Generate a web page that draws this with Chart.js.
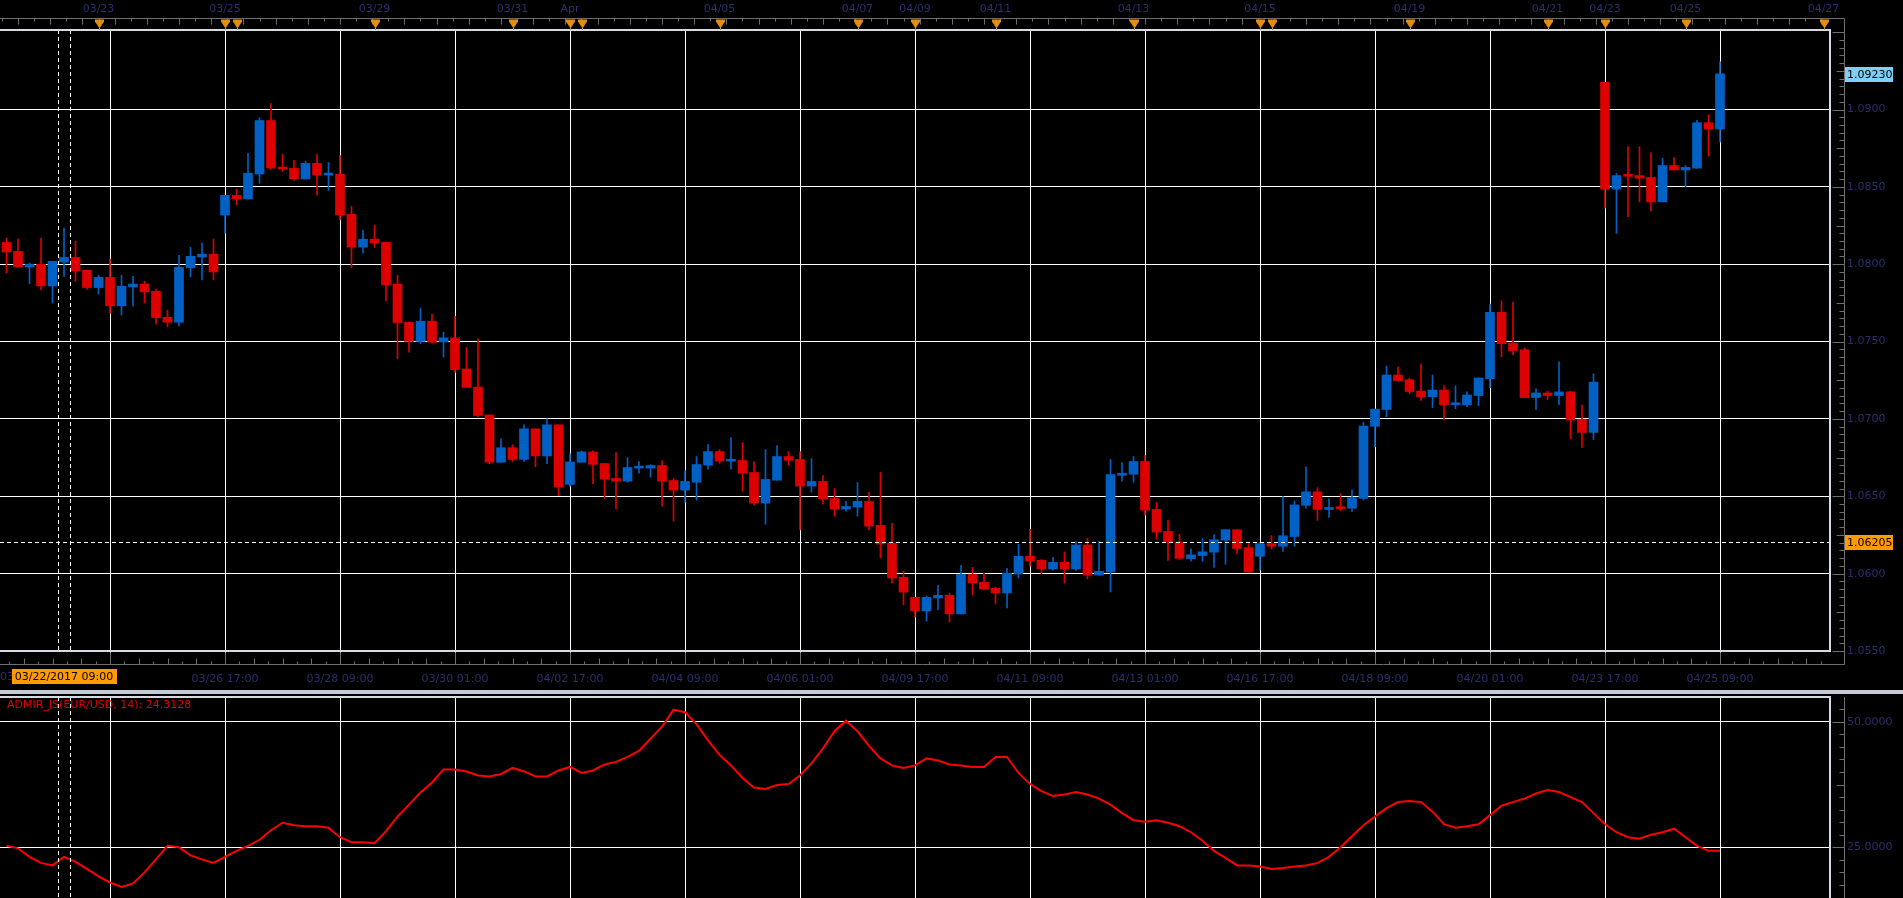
<!DOCTYPE html>
<html><head><meta charset="utf-8">
<script src="https://cdn.jsdelivr.net/npm/chart.js@4.4.0/dist/chart.umd.min.js"></script>
<style>
html,body{margin:0;padding:0;background:#000;overflow:hidden;width:1903px;height:898px;}
#c1{position:absolute;left:0;top:0;}
#c2{position:absolute;left:0;top:690px;}
</style></head><body>
<canvas id="c1" width="1903" height="690"></canvas>
<canvas id="c2" width="1903" height="208"></canvas>
<script>
// ---- DATA (EUR/USD, 4-hour bars; crosshair bar 5 = 03/22/2017 09:00) ----
const opens = [1.08141,1.08083,1.07982,1.08000,1.07860,1.08014,1.08044,1.07961,1.07849,1.07915,
1.07731,1.07853,1.07872,1.07825,1.07657,1.07625,1.07977,1.08047,1.08065,1.08318,
1.08445,1.08422,1.08583,1.08929,1.08627,1.08620,1.08551,1.08652,1.08576,1.08581,
1.08323,1.08111,1.08162,1.08141,1.07872,1.07625,1.07501,1.07632,1.07498,1.07524,
1.07323,1.07206,1.07026,1.06720,1.06814,1.06738,1.06936,1.06761,1.06962,1.06577,
1.06720,1.06787,1.06712,1.06615,1.06598,1.06682,1.06682,1.06699,1.06602,1.06540,
1.06591,1.06701,1.06789,1.06727,1.06731,1.06654,1.06456,1.06604,1.06757,1.06738,
1.06566,1.06596,1.06486,1.06417,1.06430,1.06467,1.06312,1.06198,1.05976,1.05847,
1.05759,1.05843,1.05860,1.05740,1.05995,1.05944,1.05905,1.05875,1.05998,1.06112,
1.06086,1.06030,1.06073,1.06030,1.06185,1.05991,1.06011,1.06636,1.06643,1.06725,
1.06415,1.06273,1.06204,1.06097,1.06117,1.06139,1.06216,1.06284,1.06168,1.06112,
1.06194,1.06177,1.06240,1.06442,1.06529,1.06415,1.06427,1.06423,1.06486,1.06952,
1.07061,1.07284,1.07253,1.07180,1.07143,1.07187,1.07092,1.07092,1.07151,1.07260,
1.07689,1.07490,1.07447,1.07138,1.07168,1.07151,1.07175,1.06998,1.06913,1.09175,
1.08485,1.08573,1.08573,1.08561,1.08403,1.08638,1.08609,1.08621,1.08915,1.08874];
const highs = [1.08169,1.08162,1.08007,1.08169,1.08019,1.08233,1.08148,1.07961,1.07929,1.08033,
1.07929,1.07922,1.07890,1.07839,1.07703,1.08058,1.08109,1.08136,1.08162,1.08445,
1.08484,1.08717,1.08947,1.09039,1.08710,1.08671,1.08664,1.08710,1.08657,1.08703,
1.08374,1.08219,1.08252,1.08141,1.07929,1.07625,1.07717,1.07678,1.07561,1.07664,
1.07462,1.07517,1.07026,1.06872,1.06833,1.06962,1.06936,1.07001,1.06962,1.06775,
1.06794,1.06794,1.06712,1.06783,1.06750,1.06725,1.06705,1.06731,1.06615,1.06667,
1.06757,1.06834,1.06802,1.06880,1.06847,1.06725,1.06802,1.06828,1.06789,1.06789,
1.06744,1.06634,1.06550,1.06467,1.06589,1.06525,1.06654,1.06325,1.06015,1.05847,
1.05854,1.05925,1.05873,1.06054,1.06041,1.06002,1.05912,1.06034,1.06189,1.06286,
1.06092,1.06105,1.06140,1.06208,1.06228,1.06211,1.06738,1.06718,1.06757,1.06763,
1.06460,1.06344,1.06254,1.06160,1.06226,1.06253,1.06284,1.06284,1.06194,1.06204,
1.06245,1.06498,1.06471,1.06690,1.06556,1.06483,1.06517,1.06541,1.06978,1.07063,
1.07342,1.07335,1.07262,1.07354,1.07284,1.07214,1.07214,1.07175,1.07265,1.07743,
1.07762,1.07755,1.07459,1.07194,1.07180,1.07369,1.07180,1.07090,1.07291,1.09175,
1.08587,1.08760,1.08760,1.08721,1.08684,1.08689,1.08638,1.08930,1.08966,1.09308];
const lows = [1.07945,1.07982,1.07874,1.07835,1.07749,1.07922,1.07890,1.07839,1.07807,1.07680,
1.07671,1.07729,1.07749,1.07614,1.07595,1.07602,1.07918,1.07899,1.07899,1.08201,
1.08383,1.08422,1.08523,1.08613,1.08599,1.08542,1.08551,1.08447,1.08477,1.08286,
1.07977,1.08072,1.08109,1.07763,1.07390,1.07432,1.07487,1.07492,1.07399,1.07300,
1.07204,1.07015,1.06711,1.06720,1.06725,1.06725,1.06692,1.06711,1.06504,1.06566,
1.06720,1.06582,1.06486,1.06417,1.06591,1.06649,1.06624,1.06436,1.06340,1.06462,
1.06475,1.06675,1.06714,1.06675,1.06533,1.06443,1.06320,1.06604,1.06701,1.06282,
1.06527,1.06449,1.06372,1.06404,1.06372,1.06282,1.06101,1.05940,1.05798,1.05720,
1.05694,1.05765,1.05688,1.05740,1.05862,1.05894,1.05804,1.05778,1.05972,1.06049,
1.05998,1.06023,1.05940,1.06021,1.05965,1.05991,1.05882,1.06598,1.06591,1.06378,
1.06223,1.06086,1.06092,1.06080,1.06080,1.06041,1.06061,1.06131,1.06010,1.06025,
1.06160,1.06143,1.06177,1.06423,1.06345,1.06364,1.06408,1.06403,1.06476,1.06821,
1.07015,1.07248,1.07163,1.07119,1.07073,1.06993,1.07066,1.07080,1.07085,1.07202,
1.07401,1.07415,1.07138,1.07061,1.07124,1.07092,1.06874,1.06816,1.06867,1.08364,
1.08199,1.08308,1.08403,1.08345,1.08403,1.08609,1.08502,1.08621,1.08699,1.08791];
const closes = [1.08079,1.07982,1.08000,1.07860,1.08019,1.08044,1.07957,1.07849,1.07915,1.07731,
1.07858,1.07872,1.07821,1.07655,1.07625,1.07980,1.08051,1.08065,1.07950,1.08445,
1.08422,1.08588,1.08929,1.08622,1.08615,1.08551,1.08652,1.08576,1.08581,1.08318,
1.08111,1.08162,1.08139,1.07867,1.07623,1.07501,1.07632,1.07496,1.07524,1.07319,
1.07204,1.07022,1.06720,1.06814,1.06738,1.06936,1.06761,1.06962,1.06559,1.06722,
1.06787,1.06706,1.06611,1.06598,1.06686,1.06686,1.06699,1.06598,1.06540,1.06596,
1.06705,1.06789,1.06727,1.06733,1.06649,1.06456,1.06609,1.06757,1.06733,1.06566,
1.06596,1.06482,1.06417,1.06434,1.06467,1.06307,1.06191,1.05972,1.05881,1.05759,
1.05847,1.05860,1.05740,1.05995,1.05940,1.05901,1.05875,1.06002,1.06112,1.06082,
1.06030,1.06073,1.06030,1.06185,1.05991,1.06015,1.06641,1.06647,1.06725,1.06411,
1.06269,1.06204,1.06099,1.06122,1.06141,1.06219,1.06284,1.06163,1.06010,1.06194,
1.06177,1.06245,1.06444,1.06529,1.06415,1.06425,1.06420,1.06491,1.06954,1.07063,
1.07284,1.07248,1.07177,1.07143,1.07187,1.07092,1.07100,1.07155,1.07265,1.07689,
1.07486,1.07442,1.07138,1.07168,1.07151,1.07175,1.06993,1.06913,1.07238,1.08485,
1.08573,1.08568,1.08556,1.08403,1.08638,1.08609,1.08626,1.08915,1.08874,1.09231];
const admir = [25.3,24.8,23.1,21.9,21.4,23.1,22.1,20.7,19.2,18.0,
17.1,17.8,20.0,22.6,25.3,25.0,23.4,22.6,21.9,23.1,
24.3,25.3,26.5,28.4,29.9,29.4,29.2,29.2,28.9,27.0,
26.0,26.0,25.8,28.2,31.1,33.5,35.9,37.9,40.5,40.5,
40.1,39.3,39.1,39.6,40.8,40.1,39.1,39.1,40.3,41.0,
39.8,40.3,41.5,42.0,43.0,44.2,46.6,49.0,52.4,51.9,
49.5,46.3,43.4,41.3,38.8,36.9,36.6,37.4,37.6,39.3,
41.7,44.7,48.1,50.2,48.1,45.2,42.7,41.3,40.8,41.3,
42.7,42.3,41.5,41.3,41.0,41.0,43.0,43.0,39.8,37.6,
36.2,35.2,35.5,36.0,35.5,34.7,33.5,31.8,30.4,30.1,
30.4,29.9,29.2,28.0,26.3,24.3,22.9,21.4,21.4,21.2,
20.7,20.9,21.2,21.4,21.9,23.1,25.0,27.2,29.4,31.1,
32.8,34.0,34.2,34.0,32.1,29.6,28.9,29.2,29.6,31.4,
33.3,34.0,34.7,35.7,36.4,36.0,35.0,34.0,31.8,29.6,
28.0,27.0,26.7,27.5,28.0,28.7,27.0,25.3,24.3,24.3128];

const gridBars = [9,19,29,39,49,59,69,79,89,99,109,119,129,139,149];
const gridLabels = ['','03/26 17:00','03/28 09:00','03/30 01:00','04/02 17:00','04/04 09:00','04/06 01:00',
  '04/09 17:00','04/11 09:00','04/13 01:00','04/16 17:00','04/18 09:00','04/20 01:00','04/23 17:00','04/25 09:00'];
const topMarkBars = [8,19,20,32,44,49,50,62,74,79,86,98,109,110,122,134,139,146,158];
const topLabelBars = [8,19,32,44,49,62,74,79,86,98,109,122,134,139,146,158];
const topLabels = ['03/23','03/25','03/29','03/31','Apr','04/05','04/07','04/09','04/11','04/13','04/15','04/19','04/21','04/23','04/25','04/27'];
const priceTicks = [1.0550,1.0600,1.0650,1.0700,1.0750,1.0800,1.0850,1.0900];
const oscTicks = [25,50];
const lastPrice = 1.09230;
const crossPrice = 1.06205;
const crossBar = 5;
const crossLabel = '03/22/2017 09:00';
const oscLabel = 'ADMIR_JS(EUR/USD, 14): 24.3128';

// ---- STYLE ----
const NAVY = '#2b2e6e', UP = '#0060c4', DOWN = '#dd0000', FRAME = '#d5dbe1', RULER = '#6e6e6e';
const FONT = {family:'DejaVu Sans', size:11};
Chart.defaults.font = FONT;
Chart.defaults.color = NAVY;
const BAR_W = 11.5, X_LEFT = 6.5, PLOT_RIGHT = 1830;
const xMin = -X_LEFT / BAR_W, xMax = (PLOT_RIGHT - X_LEFT) / BAR_W;

const idx = opens.map((_, i) => i);
const candleColors = idx.map(i => closes[i] >= opens[i] ? UP : DOWN);

function dashedCross(ctx, a, x) {
  const cx = x.getPixelForValue(crossBar);
  ctx.save();
  ctx.strokeStyle = '#ffffff'; ctx.lineWidth = 1; ctx.setLineDash([4, 3]);
  [cx - 6, cx + 6].forEach(px => {
    const p = Math.round(px) + 0.5;
    ctx.beginPath(); ctx.moveTo(p, a.top); ctx.lineTo(p, a.bottom); ctx.stroke();
  });
  ctx.restore();
}
function yAfterFit(s) { s.width = 73; s.paddingTop = 0; s.paddingBottom = 0; }

const decor1 = {
  id: 'decor1',
  afterDatasetsDraw(chart) {
    const {ctx, chartArea: a, scales: {x, y}} = chart;
    dashedCross(ctx, a, x);
    ctx.save();
    ctx.strokeStyle = '#ffffff'; ctx.lineWidth = 1; ctx.setLineDash([4, 3]);
    const py = Math.round(y.getPixelForValue(crossPrice)) + 0.5;
    ctx.beginPath(); ctx.moveTo(a.left, py); ctx.lineTo(a.right, py); ctx.stroke();
    ctx.restore();
  },
  afterDraw(chart) {
    const {ctx, chartArea: a, scales: {x, y}} = chart;
    ctx.save();
    ctx.strokeStyle = FRAME; ctx.lineWidth = 2;
    ctx.beginPath(); ctx.moveTo(a.left, a.top); ctx.lineTo(a.right, a.top); ctx.lineTo(a.right, a.bottom); ctx.lineTo(a.left, a.bottom); ctx.stroke();
    const RX = 1844.5, TY = 18.5, BY = 664.5;
    ctx.strokeStyle = RULER; ctx.lineWidth = 1;
    ctx.beginPath();
    ctx.moveTo(0, TY); ctx.lineTo(RX, TY); ctx.lineTo(RX, BY); ctx.lineTo(0, BY);
    let k = 0;
    for (let v = -0.4; v < xMax; v += 1.4, k++) {
      const px = Math.round(x.getPixelForValue(v)) + 0.5;
      ctx.moveTo(px, TY); ctx.lineTo(px, TY + (k % 2 ? 6 : 3));
    }
    k = 0;
    for (let v = gridBars[0] - 10; v < xMax; v += 1.25, k++) {
      const px = Math.round(x.getPixelForValue(v)) + 0.5;
      const len = (k % 8 === 0) ? 12 : (k % 2 ? 3 : 6);
      ctx.moveTo(px, BY); ctx.lineTo(px, BY - len);
    }
    for (let s = 0; ; s++) {
      const v = 1.0550 + s * 0.0005;
      if (v > y.max) break;
      const py = Math.round(y.getPixelForValue(v)) + 0.5;
      const len = (s % 10 === 0) ? 12 : (s % 5 === 0 ? 8 : 5);
      ctx.moveTo(RX - len, py); ctx.lineTo(RX, py);
    }
    ctx.stroke();
    topMarkBars.forEach(b => {
      const px = Math.round(x.getPixelForValue(b));
      ctx.strokeStyle = '#9a9a9a'; ctx.lineWidth = 1;
      ctx.beginPath(); ctx.moveTo(px + 0.5, 27); ctx.lineTo(px + 0.5, a.top); ctx.stroke();
      ctx.fillStyle = '#e38e0f';
      ctx.beginPath(); ctx.moveTo(px - 4, 19.5); ctx.lineTo(px + 5, 19.5); ctx.lineTo(px + 5, 21.5); ctx.lineTo(px + 0.5, 28.5); ctx.lineTo(px - 4, 21.5); ctx.closePath(); ctx.fill();
    });
    ctx.fillStyle = NAVY; ctx.font = '11px "DejaVu Sans"'; ctx.textAlign = 'center'; ctx.textBaseline = 'middle';
    topLabelBars.forEach((b, i) => ctx.fillText(topLabels[i], x.getPixelForValue(b), 9));
    ctx.textAlign = 'left';
    ctx.fillText('03', 0, 677);
    const cx = x.getPixelForValue(crossBar);
    ctx.fillStyle = '#ff9a00'; ctx.fillRect(Math.round(cx) - 52, 669, 105, 15);
    ctx.fillStyle = '#000'; ctx.textAlign = 'center';
    ctx.fillText(crossLabel, cx, 677);
    ctx.textAlign = 'left';
    [[lastPrice, '#7ccff5', lastPrice.toFixed(5)], [crossPrice, '#ff9a00', crossPrice.toFixed(5)]].forEach(([p, c, t]) => {
      const py = y.getPixelForValue(p);
      ctx.fillStyle = c; ctx.fillRect(1845, Math.round(py) - 7, 48, 15);
      ctx.fillStyle = '#000'; ctx.fillText(t, 1847, py + 1);
    });
    ctx.restore();
  }
};

new Chart(document.getElementById('c1'), {
  type: 'bar',
  data: {
    datasets: [
      { label: 'wick', data: idx.map(i => ({x: i, y: [lows[i], highs[i]]})), backgroundColor: candleColors,
        barThickness: 1, grouped: false, order: 2 },
      { label: 'body', data: idx.map(i => ({x: i, y: [opens[i], closes[i]]})), backgroundColor: candleColors,
        barThickness: 9, minBarLength: 2, grouped: false, order: 1 }
    ]
  },
  options: {
    responsive: false, animation: false, events: [], devicePixelRatio: 1,
    layout: {padding: {top: 30, left: 0, right: 0, bottom: 0}},
    plugins: {legend: {display: false}, tooltip: {enabled: false}},
    scales: {
      x: {
        type: 'linear', min: xMin, max: xMax, offset: false,
        grid: {offset: false, color: '#ffffff', lineWidth: 1, drawTicks: true, tickLength: 13, tickColor: '#ffffff'},
        border: {display: false},
        afterBuildTicks: s => { s.ticks = gridBars.map(v => ({value: v})); },
        afterFit: s => { s.height = 39; },
        ticks: {autoSkip: false, maxRotation: 0, padding: 9, color: NAVY, font: FONT,
          callback: v => { const j = gridBars.indexOf(v); return j >= 0 ? gridLabels[j] : ''; }}
      },
      y: {
        type: 'linear', position: 'right', min: 1.0550, max: 1.09514,
        grid: {color: '#ffffff', lineWidth: 1, drawTicks: false},
        border: {display: false},
        afterBuildTicks: s => { s.ticks = priceTicks.map(v => ({value: v})); },
        afterFit: yAfterFit,
        ticks: {padding: 17, color: NAVY, font: FONT, callback: v => v.toFixed(4)}
      }
    }
  },
  plugins: [decor1]
});

const decor2 = {
  id: 'decor2',
  beforeDraw(chart) {
    const {ctx} = chart;
    ctx.save(); ctx.fillStyle = '#c3ccd6'; ctx.fillRect(0, 0, 1903, 4); ctx.restore();
  },
  afterDraw(chart) {
    const {ctx, chartArea: a, scales: {x, y}} = chart;
    dashedCross(ctx, a, x);
    ctx.save();
    ctx.strokeStyle = FRAME; ctx.lineWidth = 2;
    ctx.beginPath(); ctx.moveTo(a.left, a.top); ctx.lineTo(a.right, a.top); ctx.lineTo(a.right, a.bottom); ctx.stroke();
    const RX = 1844.5;
    ctx.strokeStyle = RULER; ctx.lineWidth = 1;
    ctx.beginPath(); ctx.moveTo(RX, a.top); ctx.lineTo(RX, 208);
    for (let s = 0; ; s++) {
      const v = 15 + s * 2.5;
      if (v > y.max) break;
      const py = Math.round(y.getPixelForValue(v)) + 0.5;
      const len = (v % 25 === 0) ? 12 : (v % 12.5 === 0 ? 8 : 5);
      ctx.moveTo(RX - len, py); ctx.lineTo(RX, py);
    }
    ctx.stroke();
    ctx.fillStyle = '#e00000'; ctx.font = '11px "DejaVu Sans"'; ctx.textAlign = 'left'; ctx.textBaseline = 'middle';
    ctx.fillText(oscLabel, 7, 15);
    ctx.restore();
  }
};

new Chart(document.getElementById('c2'), {
  type: 'line',
  data: {
    datasets: [{ label: 'ADMIR_JS', data: idx.map(i => ({x: i, y: admir[i]})), borderColor: '#ff0000',
      borderWidth: 2, pointRadius: 0, tension: 0, fill: false }]
  },
  options: {
    responsive: false, animation: false, events: [], devicePixelRatio: 1,
    layout: {padding: {top: 7, left: 0, right: 0, bottom: 0}, autoPadding: false},
    plugins: {legend: {display: false}, tooltip: {enabled: false}},
    scales: {
      x: {
        type: 'linear', min: xMin, max: xMax, offset: false,
        grid: {color: '#ffffff', lineWidth: 1, drawTicks: false},
        border: {display: false},
        afterBuildTicks: s => { s.ticks = gridBars.map(v => ({value: v})); },
        afterFit: s => { s.height = 0; s.paddingLeft = 0; s.paddingRight = 0; },
        ticks: {display: false}
      },
      y: {
        type: 'linear', position: 'right', min: 14.91, max: 54.92,
        grid: {color: '#ffffff', lineWidth: 1, drawTicks: false},
        border: {display: false},
        afterBuildTicks: s => { s.ticks = oscTicks.map(v => ({value: v})); },
        afterFit: yAfterFit,
        ticks: {padding: 17, color: NAVY, font: FONT, callback: v => v.toFixed(4)}
      }
    }
  },
  plugins: [decor2]
});
</script>
</body></html>
